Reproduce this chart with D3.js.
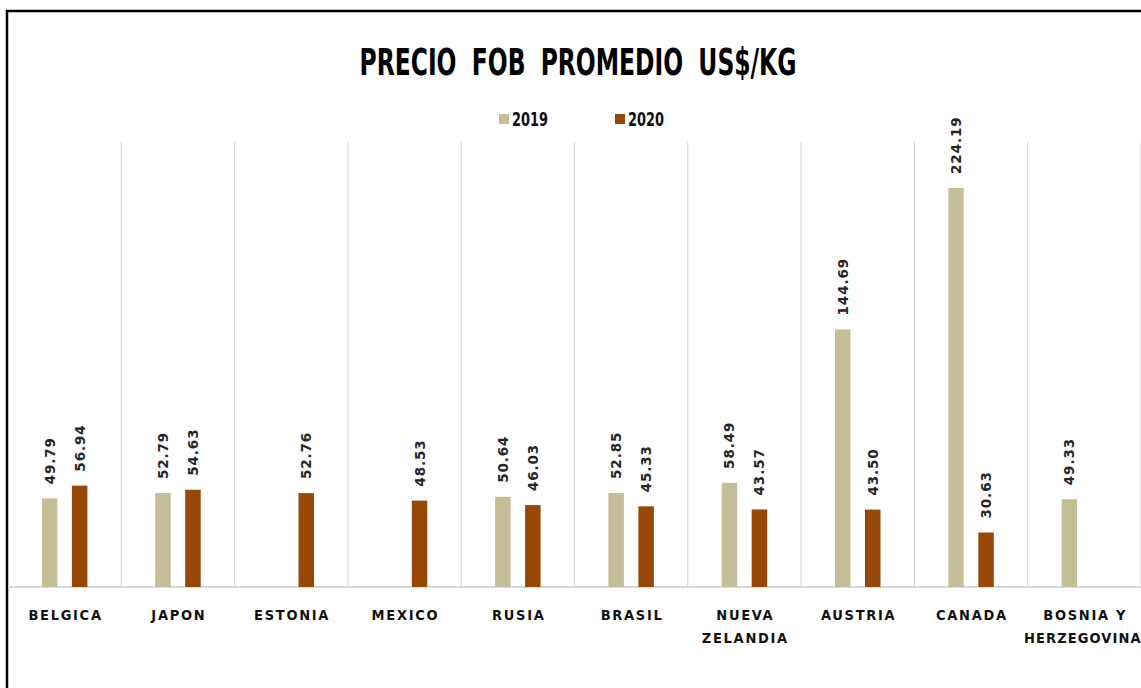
<!DOCTYPE html>
<html>
<head>
<meta charset="utf-8">
<script src="https://cdn.jsdelivr.net/npm/d3@7"></script>
<style>
  body { margin:0; background:#fff; }
  svg { display:block; }
</style>
</head>
<body>
<svg id="canvas" width="1141" height="688"></svg>
<script>
let countries=["BELGICA","JAPON","ESTONIA","MEXICO","RUSIA","BRASIL","NUEVA ZELANDIA","AUSTRIA","CANADA","BOSNIA Y HERZEGOVINA"];
let years=["2019","2020"];
let values2019=[49.79,52.79,null,null,50.64,52.85,58.49,144.69,224.19,49.33];
let values2020=[56.94,54.63,52.76,48.53,46.03,45.33,43.57,43.50,30.63,null];
let yTicks=[0,50,100,150,200,250];

let colors={"2019":"#C4BD97","2020":"#974806"};
let condensed="'DejaVu Sans Condensed','DejaVu Sans',sans-serif";

let canvas=d3.select("#canvas");

// outer frame (only left and top visible)
canvas.append("path")
  .attr("d","M7,700 L7,11 L1150,11")
  .attr("fill","none")
  .attr("stroke","#000")
  .attr("stroke-width",2.5);

let xScale=d3.scaleBand()
  .domain(countries)
  .range([8,1141]);

let yScale=d3.scaleLinear()
  .domain([0,d3.max(yTicks)])
  .range([587,142]);

// vertical separators between categories
let bounds=countries.map(c=>xScale(c)).slice(1).concat([xScale(countries[countries.length-1])+xScale.bandwidth()]);
canvas.selectAll(".sep")
  .data(bounds)
  .enter()
  .append("line")
  .attr("class","sep")
  .attr("x1",d=>d).attr("x2",d=>d)
  .attr("y1",yScale(d3.max(yTicks))).attr("y2",yScale(0))
  .attr("stroke","#d9d9d9")
  .attr("stroke-width",1.2);

// baseline
canvas.append("line")
  .attr("x1",8).attr("x2",1141)
  .attr("y1",yScale(0)).attr("y2",yScale(0))
  .attr("stroke","#d9d9d9")
  .attr("stroke-width",2);

let rows=[];
countries.forEach((c,i)=>{
  rows.push({country:c,year:"2019",value:values2019[i]});
  rows.push({country:c,year:"2020",value:values2020[i]});
});
rows=rows.filter(r=>r.value!==null);

let barW=15.5;
let cx=r=>xScale(r.country)+xScale.bandwidth()/2+(r.year==="2019"?-15:15);

canvas.selectAll(".bar")
  .data(rows)
  .enter()
  .append("rect")
  .attr("class","bar")
  .attr("x",r=>cx(r)-barW/2)
  .attr("width",barW)
  .attr("y",r=>yScale(r.value))
  .attr("height",r=>yScale(0)-yScale(r.value))
  .attr("fill",r=>colors[r.year]);

canvas.selectAll(".val")
  .data(rows)
  .enter()
  .append("text")
  .attr("class","val")
  .attr("transform",r=>"translate("+(cx(r))+","+(yScale(r.value)-14)+") rotate(-90)")
  .attr("dominant-baseline","central")
  .attr("font-family","'DejaVu Sans',Verdana,sans-serif")
  .attr("font-weight","bold")
  .attr("font-size",13.5)
  .attr("letter-spacing",0.9)
  .attr("fill","#262626")
  .text(r=>r.value.toFixed(2));

// category labels (wrap to two lines where the original does)
let wrapped={"NUEVA ZELANDIA":["NUEVA","ZELANDIA"],"BOSNIA Y HERZEGOVINA":["BOSNIA Y","HERZEGOVINA"]};
let cat=canvas.selectAll(".cat")
  .data(countries)
  .enter()
  .append("text")
  .attr("class","cat")
  .attr("text-anchor","middle")
  .attr("font-family",condensed)
  .attr("font-weight","bold")
  .attr("font-size",14.5)
  .attr("letter-spacing",1.7)
  .attr("fill","#111");
cat.each(function(c){
  let lines=wrapped[c]||[c];
  let t=d3.select(this);
  lines.forEach((l,i)=>{
    let long=l.length>10;
    t.append("tspan")
      .attr("x",xScale(c)+xScale.bandwidth()/2+(long?-1.5:0.9))
      .attr("y",620+i*23)
      .attr("letter-spacing",long?1.1:null)
      .text(l);
  });
});

// title
canvas.append("text")
  .attr("x",578)
  .attr("y",75)
  .attr("text-anchor","middle")
  .attr("font-family",condensed)
  .attr("font-weight","bold")
  .attr("font-size",37)
  .attr("word-spacing",10)
  .attr("textLength",437)
  .attr("lengthAdjust","spacingAndGlyphs")
  .attr("fill","#000")
  .text("PRECIO FOB PROMEDIO US$/KG");

// legend
let legend=canvas.selectAll(".leg")
  .data(years)
  .enter()
  .append("g")
  .attr("class","leg")
  .attr("transform",(d,i)=>"translate("+(499+i*116)+",114)");
legend.append("rect")
  .attr("width",10).attr("height",10)
  .attr("fill",d=>colors[d]);
legend.append("text")
  .attr("x",13)
  .attr("y",12)
  .attr("font-family",condensed)
  .attr("font-weight","bold")
  .attr("font-size",19)
  .attr("textLength",36)
  .attr("lengthAdjust","spacingAndGlyphs")
  .attr("fill","#111")
  .text(d=>d);
</script>
</body>
</html>
